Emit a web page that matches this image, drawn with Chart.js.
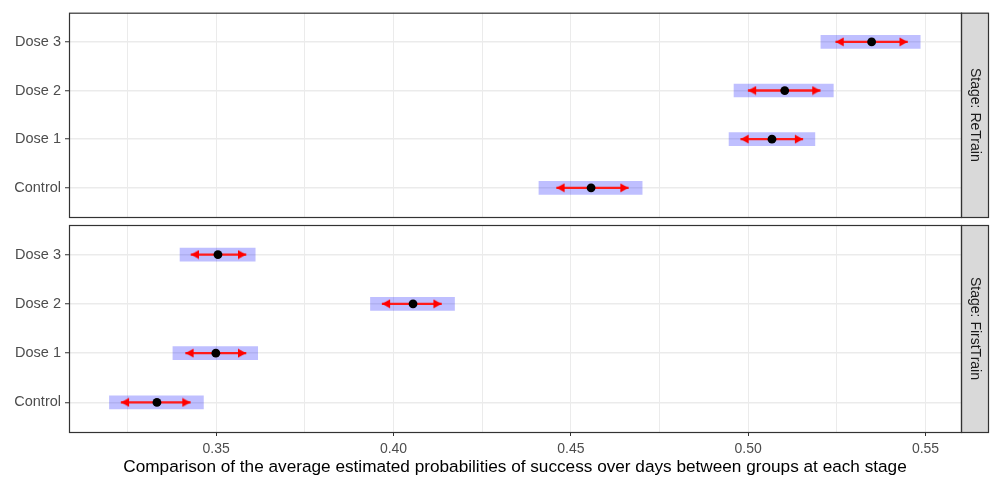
<!DOCTYPE html>
<html>
<head>
    <meta http-equiv="Content-Type" content="text/html; charset=UTF-8" />
    <title>Average estimated probabilities of success</title>
    <script type="text/javascript" src="https://cdn.jsdelivr.net/npm/chart.js@4/dist/chart.umd.min.js"></script>
<style>
body { margin:0; background:#ffffff; }
#wrap { position:relative; width:992px; height:478px; }
#wrap canvas { position:absolute; left:0; top:0; }
</style>
</head>
<body>
<div id="wrap">
    <canvas id="top" width="992" height="478"></canvas>
    <canvas id="bottom" width="992" height="478"></canvas>
</div>
<script>
    // groups, bottom to top (y position 1..4)
    var groups = ['Control', 'Dose 1', 'Dose 2', 'Dose 3'];
    var groupPos = [1, 2, 3, 4];

    var stageRetrain = 'Stage: ReTrain';
    var retrainMean   = [0.4557, 0.5067, 0.5103, 0.5348];
    var retrainBoxLo  = [0.4410, 0.4946, 0.4960, 0.5205];
    var retrainBoxHi  = [0.4701, 0.5188, 0.5240, 0.5485];
    var retrainArrLo  = [0.4460, 0.4979, 0.5000, 0.5247];
    var retrainArrHi  = [0.4662, 0.5154, 0.5203, 0.5449];

    var stageFirst = 'Stage: FirstTrain';
    var firstMean   = [0.3333, 0.3499, 0.4055, 0.3505];
    var firstBoxLo  = [0.3199, 0.3378, 0.3935, 0.3398];
    var firstBoxHi  = [0.3464, 0.3617, 0.4172, 0.3610];
    var firstArrLo  = [0.3232, 0.3414, 0.3968, 0.3429];
    var firstArrHi  = [0.3427, 0.3584, 0.4135, 0.3584];

    var xMajor = [0.35, 0.40, 0.45, 0.50, 0.55];
    var xMinor = [0.325, 0.375, 0.425, 0.475, 0.525];
    var xMin = 0.3085, xMax = 0.5600;
    var yMin = 0.4, yMax = 4.6;
    var xTitle = 'Comparison of the average estimated probabilities of success over days between groups at each stage';

    var FONT = "'Liberation Sans', Arial, sans-serif";

    // arrow head with its tip at the centre of the image
    var head = document.createElement('canvas');
    head.width = 18; head.height = 10;
    var hc = head.getContext('2d');
    hc.fillStyle = '#ff0000';
    hc.beginPath();
    hc.moveTo(9, 5);
    hc.lineTo(1, 0.5);
    hc.lineTo(1, 9.5);
    hc.closePath();
    hc.fill();

    var isMajor = function(v) {
        for (var i = 0; i < xMajor.length; i++) {
            if (Math.abs(xMajor[i] - v) < 1e-6) return true;
        }
        return false;
    };

    var pairs = function(lo, hi) {
        return groupPos.map(function(p, i) { return {y: p, x: [lo[i], hi[i]]}; });
    };
    var pts = function(vals) {
        return groupPos.map(function(p, i) { return {y: p, x: vals[i]}; });
    };

    var stripPlugin = {
        id: 'strip',
        afterDraw: function(chart) {
            var a = chart.chartArea;
            var ctx = chart.ctx;
            var label = chart.options.plugins.strip.label;
            ctx.save();
            ctx.fillStyle = '#d9d9d9';
            ctx.fillRect(a.right, a.top, 27, a.bottom - a.top);
            ctx.strokeStyle = '#333333';
            ctx.lineWidth = 1.2;
            ctx.strokeRect(a.right + 0.5, a.top + 0.5, 27, a.bottom - a.top);
            ctx.strokeRect(a.left + 0.5, a.top + 0.5, a.right - a.left, a.bottom - a.top);
            ctx.translate(a.right + 14, (a.top + a.bottom) / 2);
            ctx.rotate(Math.PI / 2);
            ctx.fillStyle = '#1a1a1a';
            ctx.font = '14px ' + FONT;
            ctx.textAlign = 'center';
            ctx.textBaseline = 'middle';
            ctx.fillText(label, 0, 0);
            ctx.restore();
        }
    };

    var make_chart = function(id, stage, mean, boxLo, boxHi, arrLo, arrHi, isBottom) {
        var ctx = document.getElementById(id).getContext('2d');
        return new Chart(ctx, {
            type: 'bar',
            data: {
                datasets: [
                    { type: 'bar', data: pairs(boxLo, boxHi), backgroundColor: 'rgba(0,0,255,0.25)',
                      barThickness: 13, grouped: false, borderWidth: 0, order: 4 },
                    { type: 'bar', data: pairs(arrLo, arrHi), backgroundColor: '#ff1a1a',
                      barThickness: 1.7, grouped: false, borderWidth: 0, order: 3 },
                    { type: 'scatter', data: pts(arrLo), pointStyle: head, pointRotation: 180,
                      pointRadius: 5, order: 2 },
                    { type: 'scatter', data: pts(arrHi), pointStyle: head, pointRotation: 0,
                      pointRadius: 5, order: 2 },
                    { type: 'scatter', data: pts(mean), backgroundColor: '#000000', borderColor: '#000000',
                      pointRadius: 4.4, borderWidth: 0, order: 1 }
                ]
            },
            options: {
                responsive: false,
                animation: false,
                devicePixelRatio: 1,
                indexAxis: 'y',
                layout: { padding: isBottom ? {left: 0, top: 225, right: 31, bottom: 0}
                                            : {left: 0, top: 10, right: 31, bottom: 261} },
                plugins: {
                    legend: { display: false },
                    tooltip: { enabled: false },
                    strip: { label: stage }
                },
                scales: {
                    x: {
                        type: 'linear',
                        min: xMin,
                        max: xMax,
                        offset: false,
                        afterBuildTicks: function(s) {
                            s.ticks = xMinor.concat(xMajor).sort().map(function(v) { return {value: v}; });
                        },
                        afterFit: function(s) { s.height = isBottom ? 46 : 0; },
                        border: { display: false },
                        grid: {
                            offset: false,
                            color: '#ebebeb',
                            lineWidth: 1,
                            drawTicks: isBottom,
                            tickLength: 4,
                            tickColor: function(c) { return isMajor(c.tick.value) ? '#333333' : 'rgba(0,0,0,0)'; }
                        },
                        ticks: {
                            display: isBottom,
                            padding: 5,
                            color: '#4d4d4d',
                            font: { family: FONT, size: 14 },
                            maxRotation: 0,
                            autoSkip: false,
                            callback: function(v) { return isMajor(v) ? v.toFixed(2) : ''; }
                        },
                        title: {
                            display: isBottom,
                            text: xTitle,
                            color: '#000000',
                            font: { family: FONT, size: 17.2 },
                            padding: { top: 0, bottom: 0 }
                        }
                    },
                    y: {
                        type: 'linear',
                        min: yMin,
                        max: yMax,
                        offset: false,
                        afterBuildTicks: function(s) {
                            s.ticks = groupPos.map(function(v) { return {value: v}; });
                        },
                        afterFit: function(s) { s.width = 69; },
                        border: { display: false },
                        grid: { offset: false, color: '#ebebeb', lineWidth: 1.5, tickLength: 4,
                                tickColor: '#333333', tickWidth: 1 },
                        ticks: {
                            padding: 4,
                            color: '#4d4d4d',
                            font: { family: FONT, size: 14.5 },
                            callback: function(v) { return groups[groupPos.indexOf(v)]; }
                        }
                    }
                }
            },
            plugins: [stripPlugin]
        });
    };

    make_chart('top', stageRetrain, retrainMean, retrainBoxLo, retrainBoxHi, retrainArrLo, retrainArrHi, false);
    make_chart('bottom', stageFirst, firstMean, firstBoxLo, firstBoxHi, firstArrLo, firstArrHi, true);
</script>
</body>
</html>
